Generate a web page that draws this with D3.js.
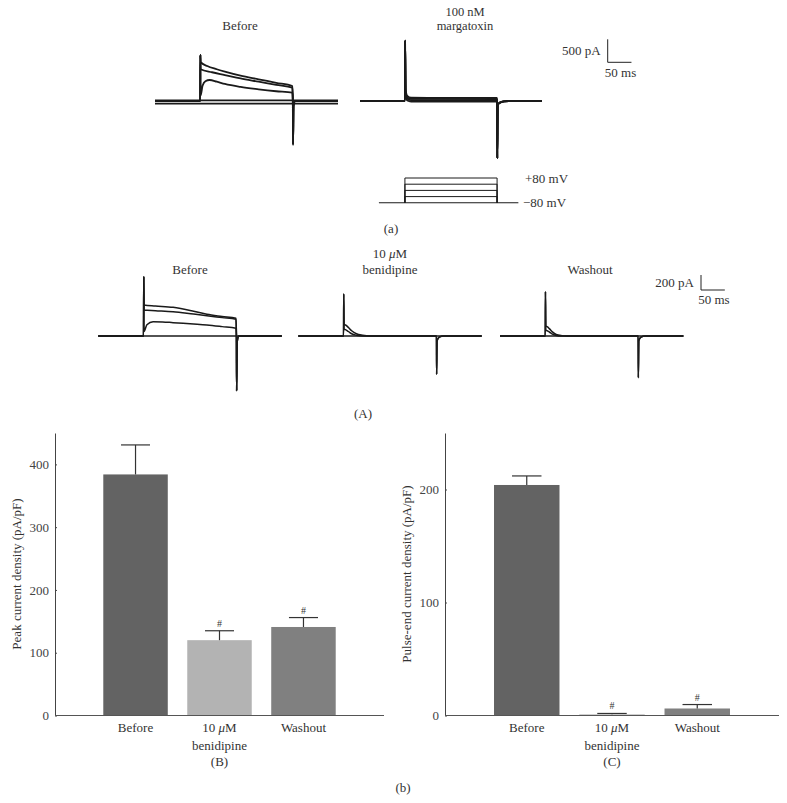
<!DOCTYPE html>
<html>
<head>
<meta charset="utf-8">
<script src="https://cdn.jsdelivr.net/npm/d3@7"></script>
<style>
  body { margin: 0; background: #fff; }
  svg text { font-family: "Liberation Serif", "DejaVu Serif", serif; }
</style>
</head>
<body>
<div id="figure"></div>
<script>
// ---- whole-cell current traces: [time (ms), current (pA)] ----
const kvBeforeSweeps = [
  [[0, 15], [385, 15]],
  [[0, -55], [385, -55]],
  [[0, 0], [95, 0], [95.4, 1000], [96, 845], [110, 760], [130, 690], [147, 637], [180, 550], [218, 472], [255, 395], [289, 326], [290, 0], [290.4, -950], [291.5, -100], [295, 0], [385, 0]],
  [[0, 0], [95, 0], [95.4, 1000], [96, 690], [120, 625], [147, 565], [180, 490], [218, 420], [255, 350], [289, 290], [290, 0], [290.4, -950], [291.5, -100], [295, 0], [385, 0]],
  [[0, 0], [95, 0], [95.4, 1000], [96, 120], [100, 330], [106, 430], [115, 456], [130, 420], [147, 370], [180, 305], [218, 254], [255, 212], [289, 180], [290, 0], [290.4, -950], [291.5, -100], [295, 0], [385, 0]]
];
const margatoxinSweeps = [
  [[0, 0], [95, 0], [95.4, 1310], [96.5, 250], [100, 110], [108, 72], [289.6, 65], [290, 0], [290.4, -1245], [291.5, -80], [296, -35], [305, -8], [315, 0], [385, 0]],
  [[0, 0], [95, 0], [95.4, 1310], [96.5, 200], [100, 80], [108, 45], [289.6, 40], [290, 0], [290.4, -1245], [291.5, -80], [296, -35], [305, -8], [315, 0], [385, 0]],
  [[0, 0], [95, 0], [95.4, 1310], [96.5, 150], [100, 50], [108, 18], [289.6, 15], [290, 0], [290.4, -1245], [291.5, -80], [296, -35], [305, -8], [315, 0], [385, 0]],
  [[0, 0], [95, 0], [95.4, 1310], [96.5, 100], [100, 10], [108, -12], [289.6, -15], [290, 0], [290.4, -1245], [291.5, -80], [296, -35], [305, -8], [315, 0], [385, 0]]
];
const benBeforeSweeps = [
  [[0, 0], [385, 0]],
  [[0, 0], [95, 0], [95.4, 790], [96, 413], [120, 400], [157, 382], [200, 330], [228, 289], [260, 260], [289, 236], [290, 0], [290.4, -730], [291.5, -80], [295, 0], [385, 0]],
  [[0, 0], [95, 0], [95.4, 790], [96, 347], [120, 338], [157, 324], [200, 292], [228, 271], [260, 245], [289, 222], [290, 0], [290.4, -730], [291.5, -80], [295, 0], [385, 0]],
  [[0, 0], [95, 0], [95.4, 790], [96, 60], [102, 150], [115, 191], [135, 188], [157, 178], [200, 160], [228, 147], [260, 125], [289, 103], [290, 0], [290.4, -730], [291.5, -80], [295, 0], [385, 0]]
];
const benidipineSweeps = [
  [[0, 0], [385, 0]],
  [[0, 0], [95, 0], [95.4, 560], [96.2, 150], [99, 147], [105, 115], [112, 70], [122, 30], [135, 10], [150, 0], [290, 0], [290.4, -510], [291.5, -60], [296, -15], [305, 0], [385, 0]],
  [[0, 0], [95, 0], [95.4, 560], [96.2, 90], [99, 85], [105, 60], [112, 30], [122, 10], [135, 0], [290, 0], [290.4, -510], [291.5, -60], [296, -15], [305, 0], [385, 0]]
];
const washoutSweeps = [
  [[0, 0], [385, 0]],
  [[0, 0], [95, 0], [95.4, 590], [96.2, 130], [99, 124], [104, 95], [110, 55], [118, 20], [130, 5], [140, 0], [290, 0], [290.4, -556], [291.5, -60], [296, -15], [305, 0], [385, 0]],
  [[0, 0], [95, 0], [95.4, 590], [96.2, 75], [99, 70], [104, 50], [110, 25], [118, 8], [128, 0], [290, 0], [290.4, -556], [291.5, -60], [296, -15], [305, 0], [385, 0]]
];

// ---- voltage protocol (mV) ----
const holdingMv = -80;
const stepMv = [-40, 0, 40, 80];
const protocolTimes = [40, 95, 290, 335]; // start, pulse on, pulse off, end (ms)

// ---- bar charts ----
const conditions = ['Before', '10 μM benidipine', 'Washout'];
const barColors = ['#636363', '#b3b3b3', '#808080'];
const peakMean = [384, 120, 141];
const peakSem = [47, 15, 15];
const pulseEndMean = [204, 1, 6.2];
const pulseEndSem = [8, 0.8, 3.5];
const significant = [false, true, true];
const peakTicks = [0, 100, 200, 300, 400];
const pulseEndTicks = [0, 100, 200];

const svg = d3.select('#figure')
  .append('svg')
  .attr('width', 787)
  .attr('height', 803);

const ink = '#1a1a1a';
const textCol = '#333';

const addText = (x, y, str, anchor = 'middle', size = 13) =>
  svg.append('text')
    .attr('x', x)
    .attr('y', y)
    .attr('text-anchor', anchor)
    .attr('font-size', size)
    .attr('fill', textCol)
    .text(str);

// label with italic micro sign
const addMicroLabel = (x, y, size = 13) => {
  const t = svg.append('text')
    .attr('x', x)
    .attr('y', y)
    .attr('text-anchor', 'middle')
    .attr('font-size', size)
    .attr('fill', textCol);
  t.append('tspan').text('10 ');
  t.append('tspan').attr('font-style', 'italic').text('μ');
  t.append('tspan').text('M');
};

// draws a set of sweeps, returns its scales
const drawTraces = (x0, width, baseY, paRef, pxRef, sweeps, strokeW) => {
  const x = d3.scaleLinear().domain([0, 385]).range([x0, x0 + width]);
  const y = d3.scaleLinear().domain([0, paRef]).range([baseY, baseY - pxRef]);
  const line = d3.line()
    .curve(d3.curveMonotoneX)
    .x((d) => x(d[0]))
    .y((d) => y(d[1]));
  svg.append('g')
    .selectAll('path')
    .data(sweeps)
    .join('path')
    .attr('d', line)
    .attr('fill', 'none')
    .attr('stroke', ink)
    .attr('stroke-width', strokeW)
    .attr('stroke-linejoin', 'round');
  return { x, y };
};

const drawScaleBar = (xPos, yBottom, sc, paLen, paText, msText, textOffset) => {
  const vLen = sc.y(0) - sc.y(paLen);
  const hLen = sc.x(50) - sc.x(0);
  svg.append('path')
    .attr('d', `M${xPos},${yBottom - vLen}V${yBottom}H${xPos + hLen}`)
    .attr('fill', 'none')
    .attr('stroke', '#222')
    .attr('stroke-width', 1);
  addText(xPos - 7, yBottom - vLen / 2 + 4.5, paText, 'end');
  addText(xPos + hLen / 2 + 1, yBottom + textOffset, msText, 'middle');
};

// ================= (a) =================
const aBefore = drawTraces(155, 183, 101, 500, 23, kvBeforeSweeps, 1.8);
drawTraces(360, 182, 101, 500, 23, margatoxinSweeps, 1.8);
addText(240, 30, 'Before');
addText(465, 15.5, '100 nM', 'middle', 12.5);
addText(465, 30, 'margatoxin', 'middle', 12.5);
drawScaleBar(607.7, 62.3, aBefore, 500, '500 pA', '50 ms', 15);

// voltage protocol, on the margatoxin time base
const vx = d3.scaleLinear().domain([0, 385]).range([360, 542]);
const vy = d3.scaleLinear().domain([-80, 80]).range([202.8, 178]);
svg.append('line')
  .attr('x1', vx(protocolTimes[0])).attr('x2', vx(protocolTimes[3]))
  .attr('y1', vy(holdingMv)).attr('y2', vy(holdingMv))
  .attr('stroke', ink).attr('stroke-width', 1.1);
svg.append('g')
  .selectAll('path')
  .data(stepMv)
  .join('path')
  .attr('d', (v) => `M${vx(protocolTimes[1])},${vy(holdingMv)}V${vy(v)}H${vx(protocolTimes[2])}V${vy(holdingMv)}`)
  .attr('fill', 'none')
  .attr('stroke', ink)
  .attr('stroke-width', 1);
addText(525, vy(80) + 4.5, '+80 mV', 'start');
addText(523, vy(-80) + 4.5, '−80 mV', 'start');
addText(391, 232.5, '(a)');

// ================= (A) =================
const ABefore = drawTraces(98.3, 183.4, 336, 200, 15, benBeforeSweeps, 1.5);
drawTraces(298.3, 183.4, 336, 200, 15, benidipineSweeps, 1.5);
drawTraces(500, 183.4, 336, 200, 15, washoutSweeps, 1.5);
addText(190, 273.5, 'Before');
addMicroLabel(390, 258);
addText(390, 274, 'benidipine');
addText(590, 273.5, 'Washout');
drawScaleBar(701, 290, ABefore, 200, '200 pA', '50 ms', 14);
addText(363, 417.5, '(A)');

// ================= bar charts =================
const drawBars = (left, right, domainMax, means, sems, ticks, yLabel, yLabelX, panelTag) => {
  const x = d3.scaleBand()
    .domain(conditions)
    .range([left, right])
    .paddingInner(0.232)
    .paddingOuter(0.575);
  const y = d3.scaleLinear().domain([0, domainMax]).range([715.5, 433]);

  const g = svg.append('g');

  g.selectAll('rect')
    .data(conditions)
    .join('rect')
    .attr('x', (d) => x(d))
    .attr('y', (d, i) => y(means[i]))
    .attr('width', x.bandwidth())
    .attr('height', (d, i) => y(0) - y(means[i]))
    .attr('fill', (d, i) => barColors[i]);

  // error bars
  const capW = x.bandwidth() * 0.45;
  conditions.forEach((c, i) => {
    const cx = x(c) + x.bandwidth() / 2;
    g.append('line')
      .attr('x1', cx).attr('x2', cx)
      .attr('y1', y(means[i])).attr('y2', y(means[i] + sems[i]))
      .attr('stroke', '#333').attr('stroke-width', 1.2);
    g.append('line')
      .attr('x1', cx - capW / 2).attr('x2', cx + capW / 2)
      .attr('y1', y(means[i] + sems[i])).attr('y2', y(means[i] + sems[i]))
      .attr('stroke', '#333').attr('stroke-width', 1.2);
    if (significant[i]) {
      g.append('text')
        .attr('x', cx)
        .attr('y', y(means[i] + sems[i]) - 4)
        .attr('text-anchor', 'middle')
        .attr('font-size', 10)
        .attr('fill', textCol)
        .text('#');
    }
  });

  // y axis
  const yAxis = g.append('g')
    .attr('transform', `translate(${left},0)`)
    .call(d3.axisLeft(y).tickValues(ticks).tickSizeInner(-2).tickSizeOuter(0).tickPadding(6));
  yAxis.select('.domain').attr('stroke', '#444');
  yAxis.selectAll('.tick line').attr('stroke', '#444');
  yAxis.selectAll('.tick text')
    .attr('font-size', 13)
    .attr('fill', '#444')
    .attr('font-family', '"Liberation Serif", serif');

  // x baseline
  g.append('line')
    .attr('x1', left).attr('x2', right)
    .attr('y1', y(0)).attr('y2', y(0))
    .attr('stroke', '#555').attr('stroke-width', 1);

  // category labels
  const cx = (c) => x(c) + x.bandwidth() / 2;
  addText(cx(conditions[0]), 732, 'Before', 'middle', 13);
  addMicroLabel(cx(conditions[1]), 732, 13);
  addText(cx(conditions[1]), 749.5, 'benidipine', 'middle', 13);
  addText(cx(conditions[1]), 766, panelTag, 'middle', 13);
  addText(cx(conditions[2]), 732, 'Washout', 'middle', 13);

  svg.append('text')
    .attr('transform', `translate(${yLabelX},574) rotate(-90)`)
    .attr('text-anchor', 'middle')
    .attr('font-size', 13)
    .attr('fill', textCol)
    .text(yLabel);
};

drawBars(55, 384, 450, peakMean, peakSem, peakTicks, 'Peak current density (pA/pF)', 20.5, '(B)');
drawBars(445, 779, 250, pulseEndMean, pulseEndSem, pulseEndTicks, 'Pulse-end current density (pA/pF)', 410.5, '(C)');
addText(403, 792, '(b)', 'middle', 13);
</script>
</body>
</html>
